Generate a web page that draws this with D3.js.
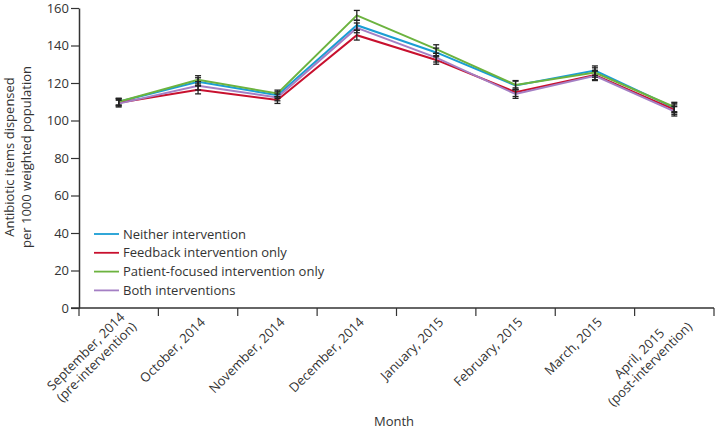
<!DOCTYPE html>
<html>
<head>
<meta charset="utf-8">
<script src="https://cdn.jsdelivr.net/npm/d3@7"></script>
<style>
  body { margin: 0; background: #fff; }
  svg { display: block; }
  text { font-family: "Open Sans", "Noto Sans", sans-serif; fill: #333; }
</style>
</head>
<body>
<svg id="chart" width="716" height="430"></svg>
<script>
// ---- data ----
const months = ["Sep 2014", "Oct 2014", "Nov 2014", "Dec 2014", "Jan 2015", "Feb 2015", "Mar 2015", "Apr 2015"];
const monthLabels = [
  ["September, 2014", "(pre-intervention)"],
  ["October, 2014"],
  ["November, 2014"],
  ["December, 2014"],
  ["January, 2015"],
  ["February, 2015"],
  ["March, 2015"],
  ["April, 2015", "(post-intervention)"]
];
const seriesNames = ["Neither intervention", "Feedback intervention only", "Patient-focused intervention only", "Both interventions"];
const neither  = [110.0, 120.6, 113.5, 150.8, 136.3, 118.7, 126.6, 106.7];
const feedback = [109.5, 116.4, 110.9, 145.5, 132.3, 115.1, 124.3, 105.8];
const patient  = [110.0, 121.7, 114.4, 156.1, 138.1, 119.0, 125.6, 107.2];
const both     = [109.0, 118.5, 112.3, 149.4, 133.5, 114.1, 123.8, 104.9];
const errHalf  = [1.8, 2.2, 1.8, 2.6, 2.3, 2.3, 2.5, 2.5];
const yTicks = [0, 20, 40, 60, 80, 100, 120, 140, 160];
const colors = ["#1a9ed4", "#c8102e", "#6cb33f", "#a47fc4"];

const seriesValues = [neither, feedback, patient, both];

// ---- layout ----
const svg = d3.select("#chart");
const x = d3.scaleBand().domain(months).range([79, 714]);
const y = d3.scaleLinear().domain([0, 160]).range([308, 8]);
const cx = m => x(m) + x.bandwidth() / 2;

// Y axis
const yAxis = svg.append("g").attr("transform", "translate(79,0)")
  .call(d3.axisLeft(y).tickValues(yTicks).tickSize(8).tickPadding(2).tickSizeOuter(0));
yAxis.select(".domain").attr("stroke", "#333").attr("stroke-width", 1.5);
yAxis.selectAll(".tick line").attr("stroke", "#333").attr("stroke-width", 1.2);
yAxis.selectAll(".tick text").style("font-size", "13px").attr("fill", "#444")
  .style("font-family", "'Open Sans', sans-serif");

// X axis: line + ticks at band boundaries
const xg = svg.append("g");
xg.append("line").attr("x1", 71).attr("x2", x.range()[1]).attr("y1", y(0)).attr("y2", y(0))
  .attr("stroke", "#333").attr("stroke-width", 1.5);
const boundaries = months.map(m => x(m)).concat([x(months[months.length - 1]) + x.bandwidth()]);
xg.selectAll("line.tk").data(boundaries).enter().append("line").attr("class", "tk")
  .attr("x1", d => d).attr("x2", d => d).attr("y1", y(0)).attr("y2", y(0) + 8)
  .attr("stroke", "#333").attr("stroke-width", 1.2);

// X tick labels, rotated
months.forEach((m, i) => {
  const lines = monthLabels[i];
  const g = svg.append("g").attr("transform", `translate(${cx(m) + 8},${y(0) + 15}) rotate(-45)`);
  if (lines.length === 1) {
    g.append("text").attr("text-anchor", "end").style("font-size", "13px").attr("fill", "#444").text(lines[0]);
  } else {
    const t1 = g.append("text").attr("text-anchor", "middle").style("font-size", "13px").attr("fill", "#444").text(lines[0]);
    const t2 = g.append("text").attr("text-anchor", "middle").attr("dy", "1.15em").style("font-size", "13px").attr("fill", "#444").text(lines[1]);
    const w = Math.max(t1.node().getComputedTextLength(), t2.node().getComputedTextLength());
    t1.attr("x", -w / 2); t2.attr("x", -w / 2);
    g.attr("transform", `translate(${cx(m) + 8},${y(0) + 9}) rotate(-45)`);
  }
});

// Axis titles
svg.append("text").attr("transform", "translate(14,157) rotate(-90)").attr("text-anchor", "middle")
  .style("font-size", "13px").attr("fill", "#444").text("Antibiotic items dispensed");
svg.append("text").attr("transform", "translate(31,157) rotate(-90)").attr("text-anchor", "middle")
  .style("font-size", "13px").attr("fill", "#444").text("per 1000 weighted population");
svg.append("text").attr("x", 394).attr("y", 426).attr("text-anchor", "middle")
  .style("font-size", "13px").attr("fill", "#444").text("Month");

// Lines
const line = d3.line().x((d, i) => cx(months[i])).y(d => y(d));
seriesValues.forEach((vals, s) => {
  svg.append("path").datum(vals).attr("d", line).attr("fill", "none")
    .attr("stroke", colors[s]).attr("stroke-width", 2);
});

// Error bars
seriesValues.forEach((vals, s) => {
  vals.forEach((v, i) => {
    const px = cx(months[i]);
    const y1 = y(v + errHalf[i]), y2 = y(v - errHalf[i]);
    const g = svg.append("g").attr("stroke", "#222").attr("stroke-width", 1.3);
    g.append("line").attr("x1", px).attr("x2", px).attr("y1", y1).attr("y2", y2);
    g.append("line").attr("x1", px - 3).attr("x2", px + 3).attr("y1", y1).attr("y2", y1);
    g.append("line").attr("x1", px - 3).attr("x2", px + 3).attr("y1", y2).attr("y2", y2);
  });
});

// Legend
const legend = svg.append("g");
seriesNames.forEach((name, s) => {
  const ly = 234 + s * 18.8;
  legend.append("line").attr("x1", 94).attr("x2", 119).attr("y1", ly).attr("y2", ly)
    .attr("stroke", colors[s]).attr("stroke-width", 1.8);
  legend.append("text").attr("x", 123).attr("y", ly + 4.5).style("font-size", "13px")
    .attr("fill", "#444").text(name);
});
</script>
</body>
</html>
